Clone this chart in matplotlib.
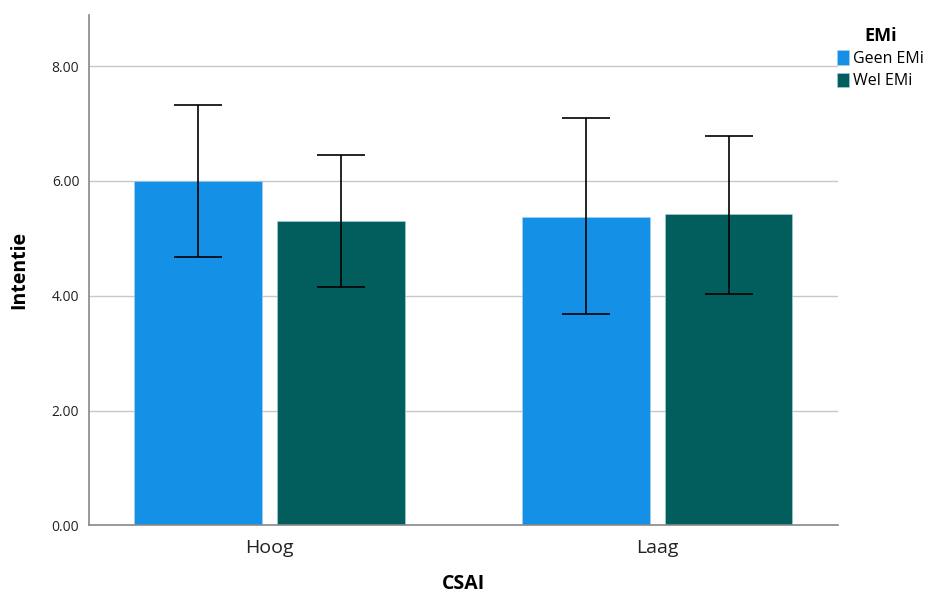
import numpy as np
import matplotlib.pyplot as plt
from matplotlib.patches import Patch

plt.rcParams["font.family"] = ["Open Sans", "DejaVu Sans"]

categories = ["Hoog", "Laag"]
groups = ["Geen EMi", "Wel EMi"]
means = {"Geen EMi": [6.00, 5.38], "Wel EMi": [5.30, 5.42]}
upper = {"Geen EMi": [7.33, 7.09], "Wel EMi": [6.45, 6.79]}
lower = {"Geen EMi": [4.67, 3.69], "Wel EMi": [4.15, 4.04]}
colors = {"Geen EMi": "#1490e6", "Wel EMi": "#025e5c"}

fig = plt.figure(figsize=(9.38, 5.96), dpi=100)
ax = fig.add_axes([0.0949, 0.1183, 0.7985, 0.8565])

x = np.arange(len(categories))
width = 0.33
offsets = [-0.1845, 0.1845]

for off, g in zip(offsets, groups):
    m = np.array(means[g])
    err = np.array([m - np.array(lower[g]), np.array(upper[g]) - m])
    ax.bar(x + off, m, width, color=colors[g], edgecolor="#a9d3e8", linewidth=0.4, zorder=2)
    ax.errorbar(x + off, m, yerr=err, fmt="none", ecolor="black", elinewidth=1.2,
                capsize=17, capthick=1.2, zorder=3)

ax.set_xlim(-0.466, 1.467)
ax.set_ylim(0, 8.89)
ax.set_yticks([0, 2, 4, 6, 8])
ax.set_yticklabels([f"{v:.2f}" for v in [0, 2, 4, 6, 8]], fontsize=10, color="#222222")
ax.set_xticks(x)
ax.set_xticklabels(categories, fontsize=14, color="#222222")
ax.tick_params(axis="both", length=0, pad=7)
ax.tick_params(axis="x", pad=10)

ax.grid(axis="y", color="#c8c8c8", linewidth=1, zorder=0)
ax.set_axisbelow(True)
for s in ["top", "right"]:
    ax.spines[s].set_visible(False)
for s in ["left", "bottom"]:
    ax.spines[s].set_color("#888888")
    ax.spines[s].set_linewidth(1.2)

ax.set_ylabel("Intentie", fontsize=14, fontweight="bold", labelpad=16)
ax.set_xlabel("CSAI", fontsize=14, fontweight="bold", labelpad=12)

handles = [Patch(facecolor=colors[g], edgecolor="#a9d3e8", linewidth=0.4) for g in groups]
leg = fig.legend(handles, groups, loc="upper left", bbox_to_anchor=(0.892, 0.955),
                 frameon=False, title="EMi", fontsize=11.5,
                 title_fontproperties={"weight": "bold", "size": 13},
                 handlelength=0.8, handleheight=1.0, handletextpad=0.25,
                 labelspacing=0.35, borderaxespad=0, borderpad=0)

fig.savefig("out.png", dpi=100)
